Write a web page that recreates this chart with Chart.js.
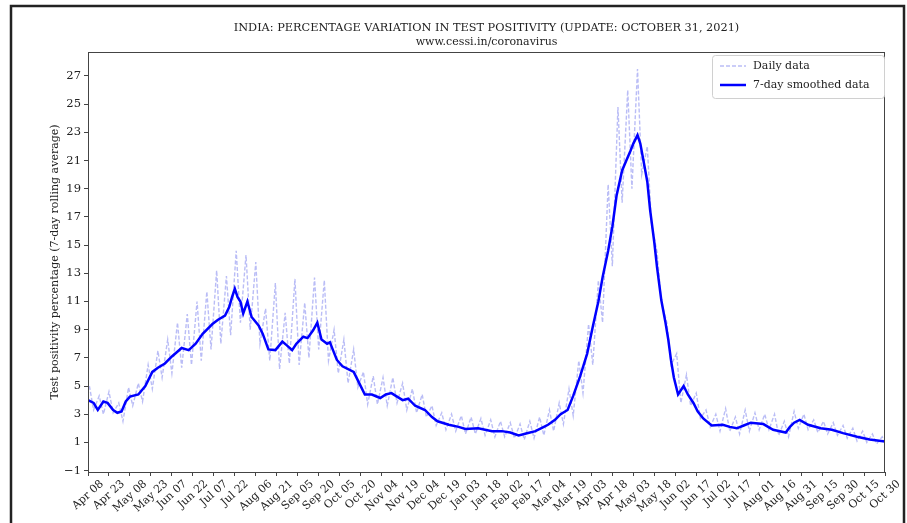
<!DOCTYPE html>
<html>
<head>
<meta charset="utf-8">
<script src="https://cdn.jsdelivr.net/npm/chart.js@4.4.1/dist/chart.umd.min.js"></script>
<style>
  html, body { margin: 0; padding: 0; background: #fff; }
  #wrap { width: 907px; height: 523px; position: relative; }
</style>
</head>
<body>
<div id="wrap"><canvas id="chart" width="907" height="523"></canvas></div>
<script>
// x values are days counted from Apr 08, 2020
const xTickLabels = ["Apr 08","Apr 23","May 08","May 23","Jun 07","Jun 22","Jul 07","Jul 22","Aug 06","Aug 21",
  "Sep 05","Sep 20","Oct 05","Oct 20","Nov 04","Nov 19","Dec 04","Dec 19","Jan 03","Jan 18",
  "Feb 02","Feb 17","Mar 04","Mar 19","Apr 03","Apr 18","May 03","May 18","Jun 02","Jun 17",
  "Jul 02","Jul 17","Aug 01","Aug 16","Aug 31","Sep 15","Sep 30","Oct 15","Oct 30"];
const yTickValues = [-1, 1, 3, 5, 7, 9, 11, 13, 15, 17, 19, 21, 23, 25, 27];

// 7-day smoothed series
const smoothDays = [0,4,7,11,14,18,21,24,27,30,
  36,41,46,50,55,60,67,72,77,82,
  89,93,98,101,103,105,107,109,111,114,
  117,122,125,129,134,139,142,146,149,154,
  157,161,164,167,171,173,175,178,182,190,
  193,198,203,209,213,217,225,229,234,241,
  246,250,258,265,270,279,289,296,302,308,
  314,320,325,329,334,338,343,347,352,357,
  361,365,368,372,375,378,382,385,388,390,
  393,395,398,400,402,405,407,410,413,415,
  417,419,422,426,429,433,436,440,446,454,
  459,464,469,474,483,490,499,502,505,509,
  515,524,532,540,550,559,570];
const smoothValues = [4.0,3.8,3.3,3.9,3.8,3.3,3.1,3.2,3.9,4.25,
  4.4,5.0,6.0,6.3,6.6,7.1,7.7,7.55,8.0,8.7,
  9.4,9.7,10.0,10.6,11.3,11.9,11.3,11.0,10.15,11.0,
  9.9,9.3,8.7,7.6,7.55,8.15,7.9,7.55,8.0,8.5,
  8.4,8.95,9.5,8.3,8.0,8.1,7.6,6.85,6.4,6.0,
  5.4,4.4,4.4,4.15,4.4,4.5,4.0,4.1,3.6,3.3,
  2.8,2.5,2.25,2.1,1.95,2.0,1.8,1.8,1.7,1.5,
  1.65,1.8,2.05,2.25,2.6,3.0,3.3,4.3,5.7,7.3,
  9.2,11.0,12.7,14.6,16.3,18.5,20.3,21.0,21.7,22.2,
  22.8,22.2,20.6,19.5,17.5,15.2,13.4,11.1,9.5,8.3,
  6.8,5.6,4.4,5.0,4.4,3.8,3.2,2.7,2.2,2.25,
  2.1,2.0,2.2,2.4,2.3,1.9,1.7,2.1,2.4,2.6,
  2.25,2.0,1.9,1.66,1.4,1.2,1.07];

// daily data: one high and one low per week (week 0 starts Apr 08, 2020)
const dailyWeekHigh = [5.0,4.3,4.6,3.8,4.9,5.2,6.5,7.5,8.3,9.5,
  10.1,11.0,11.7,13.2,12.8,14.6,14.3,13.8,10.5,12.3,
  10.2,12.6,10.9,12.7,12.5,9.0,8.3,7.6,6.0,5.7,
  5.6,5.6,5.2,4.8,4.4,3.6,3.1,3.0,2.9,2.8,
  2.7,2.6,2.5,2.4,2.3,2.5,2.8,3.3,3.8,4.8,
  6.8,9.4,12.5,19.3,24.8,26.0,27.5,22.0,14.5,9.5,
  7.3,5.8,4.5,3.3,3.0,3.4,2.8,3.3,3.1,3.0,
  3.0,2.5,3.2,3.0,2.6,2.5,2.4,2.2,2.0,1.8,
  1.6,1.4];
const dailyWeekLow = [3.3,3.0,3.1,2.5,3.6,3.9,4.8,5.6,5.9,6.3,
  6.5,6.8,7.6,8.0,8.6,9.5,9.0,8.0,6.8,6.2,
  6.6,6.5,7.0,7.6,6.8,5.9,5.2,4.9,3.7,3.7,
  3.6,3.8,3.3,3.1,2.8,2.2,1.9,1.8,1.6,1.6,
  1.5,1.4,1.4,1.3,1.2,1.3,1.5,1.8,2.3,2.9,
  4.5,6.5,9.5,13.5,18.0,19.0,20.0,16.5,11.0,6.5,
  3.8,3.6,2.7,2.1,1.8,1.8,1.6,1.8,1.9,1.9,
  1.5,1.4,2.0,1.9,1.7,1.6,1.5,1.3,1.1,1.0,
  0.9,0.9];

const titleLine1 = "INDIA: PERCENTAGE VARIATION IN TEST POSITIVITY (UPDATE: OCTOBER 31, 2021)";
const titleLine2 = "www.cessi.in/coronavirus";
const yAxisTitle = "Test positivity percentage (7-day rolling average)";
const legendLabels = ["Daily data", "7-day smoothed data"];

const DAILY_COLOR = "rgba(140,145,240,0.6)";
const SMOOTH_COLOR = "#0000ff";
const SERIF = "'DejaVu Serif', serif";

const smoothPoints = smoothDays.map((d, i) => ({ x: d, y: smoothValues[i] }));
const dailyPoints = [];
dailyWeekHigh.forEach((h, w) => {
  dailyPoints.push({ x: w * 7 + 1, y: h });
  dailyPoints.push({ x: w * 7 + 4, y: dailyWeekLow[w] });
});

const decorPlugin = {
  id: "decor",
  beforeDraw: (chart) => {
    const ctx = chart.ctx;
    ctx.save();
    ctx.fillStyle = "#fff";
    ctx.fillRect(0, 0, chart.width, chart.height);
    ctx.restore();
  },
  afterDraw: (chart) => {
    const ctx = chart.ctx;
    const { left, top, right, bottom } = chart.chartArea;
    const xs = chart.scales.x;
    ctx.save();

    // outer frame
    ctx.strokeStyle = "#222";
    ctx.lineWidth = 2.5;
    ctx.beginPath();
    ctx.moveTo(11, 523);
    ctx.lineTo(11, 6);
    ctx.lineTo(904, 6);
    ctx.lineTo(904, 523);
    ctx.stroke();

    // axes box
    ctx.strokeStyle = "#444";
    ctx.lineWidth = 1;
    ctx.strokeRect(left + 0.5, top + 0.5, right - left - 1, bottom - top);

    // title
    ctx.fillStyle = "#222";
    ctx.textAlign = "center";
    ctx.textBaseline = "middle";
    ctx.font = "11.3px " + SERIF;
    const cx = (left + right) / 2;
    ctx.fillText(titleLine1, cx, 28);
    ctx.font = "11px " + SERIF;
    ctx.fillText(titleLine2, cx, 42);

    // y axis title
    ctx.save();
    ctx.translate(55, (top + bottom) / 2);
    ctx.rotate(-Math.PI / 2);
    ctx.fillText(yAxisTitle, 0, 0);
    ctx.restore();

    // x tick labels, rotated, centred under each tick
    const ang = 42 * Math.PI / 180;
    ctx.font = "11px " + SERIF;
    xTickLabels.forEach((lab, i) => {
      const px = xs.getPixelForValue(i * 15);
      const w = ctx.measureText(lab).width;
      const h = 9;
      const bh = w * Math.sin(ang) + h * Math.cos(ang);
      ctx.save();
      ctx.translate(px, bottom + 7 + bh / 2);
      ctx.rotate(-ang);
      ctx.fillText(lab, 0, 0);
      ctx.restore();
    });

    // legend
    const lx = 712, ly = 55, lw = 172, lh = 43;
    ctx.fillStyle = "rgba(255,255,255,0.8)";
    ctx.strokeStyle = "#d0d0d0";
    ctx.lineWidth = 1;
    ctx.beginPath();
    ctx.roundRect(lx + 0.5, ly + 0.5, lw, lh, 3);
    ctx.fill();
    ctx.stroke();

    ctx.lineWidth = 1.5;
    ctx.strokeStyle = DAILY_COLOR;
    ctx.setLineDash([4, 2]);
    ctx.beginPath();
    ctx.moveTo(720, 66);
    ctx.lineTo(746, 66);
    ctx.stroke();
    ctx.setLineDash([]);
    ctx.lineWidth = 2.5;
    ctx.strokeStyle = SMOOTH_COLOR;
    ctx.beginPath();
    ctx.moveTo(720, 85);
    ctx.lineTo(746, 85);
    ctx.stroke();

    ctx.fillStyle = "#222";
    ctx.textAlign = "left";
    ctx.font = "11px " + SERIF;
    ctx.fillText(legendLabels[0], 753, 66);
    ctx.fillText(legendLabels[1], 753, 85);
    ctx.restore();
  },
};

new Chart("chart", {
  type: "line",
  data: {
    datasets: [
      {
        label: legendLabels[1],
        data: smoothPoints,
        borderColor: SMOOTH_COLOR,
        borderWidth: 2.5,
        pointRadius: 0,
        fill: false,
        tension: 0,
        order: 0,
      },
      {
        label: legendLabels[0],
        data: dailyPoints,
        borderColor: DAILY_COLOR,
        borderWidth: 1.4,
        borderDash: [4, 2],
        pointRadius: 0,
        fill: false,
        tension: 0,
        order: 1,
      },
    ],
  },
  options: {
    responsive: false,
    animation: false,
    layout: { padding: { left: 0, right: 22, top: 52, bottom: 0 } },
    plugins: {
      legend: { display: false },
      tooltip: { enabled: false },
      title: { display: false },
    },
    scales: {
      x: {
        type: "linear",
        min: 0,
        max: 570,
        afterBuildTicks: (scale) => {
          scale.ticks = xTickLabels.map((lab, i) => ({ value: i * 15 }));
        },
        afterFit: (scale) => { scale.height = 51; },
        ticks: { display: false },
        grid: { drawOnChartArea: false, drawTicks: true, tickLength: 4, color: "#444" },
        border: { display: true, color: "#444" },
      },
      y: {
        min: -1.1,
        max: 28.7,
        afterBuildTicks: (scale) => {
          scale.ticks = yTickValues.map((v) => ({ value: v }));
        },
        afterFit: (scale) => { scale.width = 88; },
        ticks: {
          color: "#222",
          font: { family: SERIF, size: 11.5 },
          padding: 3,
          autoSkip: false,
          callback: (v) => (v < 0 ? "\u2212" + Math.abs(v) : String(v)),
        },
        grid: { drawOnChartArea: false, drawTicks: true, tickLength: 4, color: "#444" },
        border: { display: true, color: "#444" },
      },
    },
  },
  plugins: [decorPlugin],
});
</script>
</body>
</html>
